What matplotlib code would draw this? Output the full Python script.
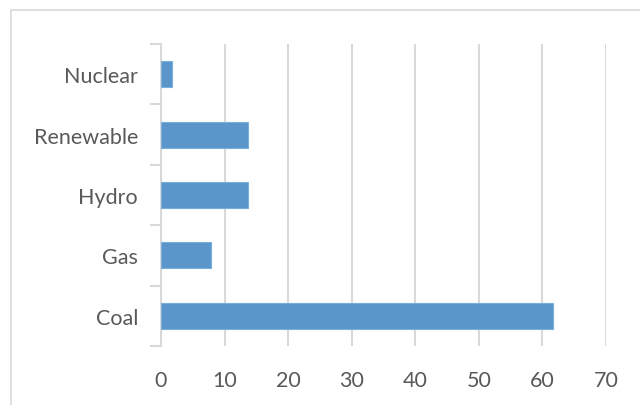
import matplotlib
matplotlib.use("Agg")
import matplotlib.pyplot as plt
from matplotlib.patches import Rectangle

categories = ["Coal", "Gas", "Hydro", "Renewable", "Nuclear"]
values = [61.7, 7.8, 13.7, 13.7, 1.7]
xticks = [0, 10, 20, 30, 40, 50, 60, 70]

TEXT = "#595959"
GRID = "#d9d9d9"
BAR = "#5b96cb"

plt.rcParams["font.family"] = ["Lato", "DejaVu Sans"]

fig = plt.figure(figsize=(6.4, 4.06), dpi=100)
fig.patch.set_facecolor("white")

# chart-area frame (extends beyond the right/bottom edges)
W, H = 640, 406
fig.patches.append(Rectangle((11 / W, -0.1), 1.2, (H - 11) / H + 0.1,
                             transform=fig.transFigure, fill=False,
                             edgecolor=GRID, linewidth=1.2))

ax = fig.add_axes([161 / W, 1 - 347 / H, (606 - 161) / W, (347 - 45) / H])
ypos = list(range(len(categories)))
ax.barh(ypos, values, height=0.43, color=BAR, edgecolor="#7aaedc",
        linewidth=0.8, zorder=3)

ax.set_xlim(0, 70)
ax.set_ylim(-0.5, len(categories) - 0.5)
ax.set_xticks(xticks)
ax.set_xticklabels([str(t) for t in xticks])
ax.set_yticks(ypos)
ax.set_yticklabels(categories)
ax.set_yticks([i - 0.5 for i in range(len(categories) + 1)], minor=True)

ax.grid(axis="x", color=GRID, linewidth=1.5, zorder=0)
ax.tick_params(axis="x", length=0, pad=17, labelsize=15.5, labelcolor=TEXT)
ax.tick_params(axis="y", which="major", length=0, pad=16.5, labelsize=15.5,
               labelcolor=TEXT)
ax.tick_params(axis="y", which="minor", length=8, width=1.5, color=GRID)

for s in ["top", "right", "bottom"]:
    ax.spines[s].set_visible(False)
ax.spines["left"].set_color(GRID)
ax.spines["left"].set_linewidth(1.5)

fig.savefig("out.png", dpi=100)
